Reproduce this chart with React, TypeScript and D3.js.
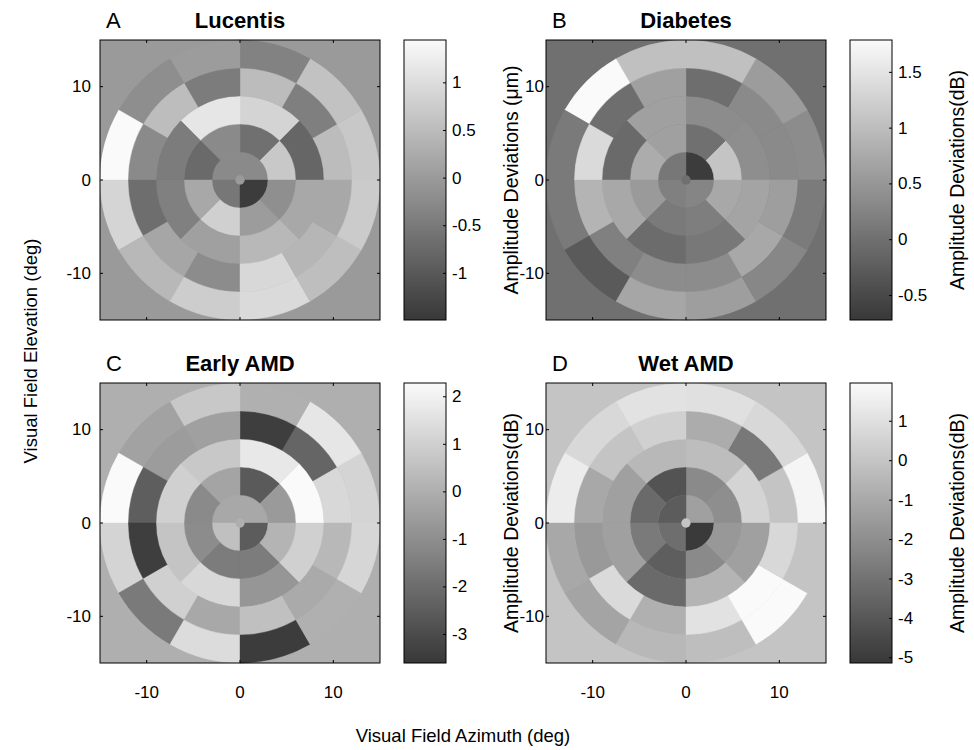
import React from "react";
import * as d3 from "d3";

// ring edges of the visual-field dartboard (deg) and tick values
const ringEdges = [0, 3, 6, 9, 12, 15];
const axisTicks = [-10, 0, 10];
const foveaRadius = 0.5;

// each ring lists its sectors counter-clockwise starting at 0 deg (nasal/right)
const lucentisRings = [
  [-0.25, -0.25, -0.54, -1.43],
  [0.69, -0.64, -0.25, -0.73, 0.21, 0.81, 0.03, -0.17],
  [-0.79, 0.87, 1.15, -0.46, -0.4, 0.09, 0.45, 0.21],
  [0.51, -0.41, 0.51, -0.46, 0.53, -0.25, -0.67, 0.18, -0.22, 0.93, 0.42, 0.21],
  [0.69, 0.6, -0.37, 0.03, -0.19, 1.45, 0.89, 0.45, 0.77, 0.96, 0.54, 0.74],
];
const diabetesRings = [
  [-0.67, 0.1, 0.21, 0.28],
  [1.09, 0.0, 0.63, 0.78, 0.55, 0.13, 0.19, 0.73],
  [0.39, 0.37, 0.63, -0.07, 0.73, -0.05, 0.11, 0.68],
  [0.34, 0.34, -0.02, 0.63, -0.02, 1.38, 0.88, 0.21, 0.37, 0.37, 0.73, 0.6],
  [0.37, 0.57, 1.04, 1.04, 1.79, 0.13, 0.13, -0.28, 0.7, 0.6, 0.3, 0.15],
];
const earlyAmdRings = [
  [-0.2, -0.2, 0.53, -2.5],
  [-0.62, -2.57, -0.32, -1.1, -1.05, -1.54, -1.54, 0.16],
  [2.29, 1.74, 0.77, 1.0, 0.65, 1.26, -0.75, 1.0],
  [1.26, -2.23, -3.42, -0.44, -0.56, -2.45, -3.42, 1.0, -0.2, 0.53, -0.14, 0.29],
  [1.14, 1.68, 0.04, 0.77, -0.38, 2.29, 1.14, -1.6, 1.38, -3.48, 0.04, 1.2],
];
const wetAmdRings = [
  [-1.32, -3.81, -3.15, -5.06],
  [-1.98, -2.13, -4.14, -3.3, -2.71, -3.74, -2.13, -1.6],
  [0.58, -0.26, -0.45, -1.32, -1.32, -3.3, -0.59, -1.32],
  [0.0, -2.79, -0.88, 0.43, 0.0, -1.03, -1.58, 0.8, -0.74, 1.09, 1.97, 0.73],
  [1.79, 0.73, 1.02, 1.09, 0.73, 1.46, -1.03, -1.18, -0.45, -0.23, 1.97, 0.0],
];

// colour limits and colorbar ticks
const lucentisRange = [-1.49, 1.45];
const diabetesRange = [-0.72, 1.79];
const earlyAmdRange = [-3.6, 2.29];
const wetAmdRange = [-5.13, 1.97];
const lucentisTicks = [-1, -0.5, 0, 0.5, 1];
const diabetesTicks = [-0.5, 0, 0.5, 1, 1.5];
const earlyAmdTicks = [-3, -2, -1, 0, 1, 2];
const wetAmdTicks = [-5, -4, -3, -2, -1, 0, 1];

const panels = [
  { letter: "A", title: "Lucentis", rings: lucentisRings, range: lucentisRange, ticks: lucentisTicks, unit: "Amplitude Deviations (μm)", col: 0, row: 0 },
  { letter: "B", title: "Diabetes", rings: diabetesRings, range: diabetesRange, ticks: diabetesTicks, unit: "Amplitude Deviations(dB)", col: 1, row: 0 },
  { letter: "C", title: "Early AMD", rings: earlyAmdRings, range: earlyAmdRange, ticks: earlyAmdTicks, unit: "Amplitude Deviations(dB)", col: 0, row: 1 },
  { letter: "D", title: "Wet AMD", rings: wetAmdRings, range: wetAmdRange, ticks: wetAmdTicks, unit: "Amplitude Deviations(dB)", col: 1, row: 1 },
];

const font = "'Liberation Sans', Arial, Helvetica, sans-serif";
const size = 280;
const lefts = [100, 546];
const tops = [40, 383];
// the right column's tick labels sit tight against the axes in the original
const yLabelGap = [9, 2];

function Panel({ p }) {
  const x0 = lefts[p.col];
  const y0 = tops[p.row];
  const x = d3.scaleLinear().domain([-15, 15]).range([0, size]);
  const y = d3.scaleLinear().domain([-15, 15]).range([size, 0]);
  const r = d3.scaleLinear().domain([0, 15]).range([0, size / 2]);
  const color = d3
    .scaleLinear<string>()
    .domain(p.range)
    .range(["#383838", "#fafafa"])
    .clamp(true);
  const arc = d3.arc();

  // build the sectors: math angles (ccw from east) -> d3 angles (cw from north)
  const cells = [];
  p.rings.forEach((vals, i) => {
    const n = vals.length;
    vals.forEach((v, j) => {
      const m0 = (j * 2 * Math.PI) / n;
      const m1 = ((j + 1) * 2 * Math.PI) / n;
      cells.push({
        d: arc({
          innerRadius: r(ringEdges[i]),
          outerRadius: r(ringEdges[i + 1]),
          startAngle: Math.PI / 2 - m1,
          endAngle: Math.PI / 2 - m0,
        }),
        fill: color(v),
      });
    });
  });

  const cbX = x0 + 304;
  const cbW = 42;
  const cb = d3.scaleLinear().domain(p.range).range([y0 + size, y0]);
  const gradId = "grad" + p.letter;
  const tickLen = 3;

  return (
    <g>
      <defs>
        <linearGradient id={gradId} x1="0" y1="1" x2="0" y2="0">
          {d3.range(0, 1.0001, 0.1).map((t) => (
            <stop key={t} offset={t} stopColor={color(p.range[0] + t * (p.range[1] - p.range[0]))} />
          ))}
        </linearGradient>
      </defs>
      <g transform={`translate(${x0},${y0})`}>
        <rect width={size} height={size} fill={color(0)} />
        <g transform={`translate(${x(0)},${y(0)})`}>
          {cells.map((c, k) => (
            <path key={k} d={c.d} fill={c.fill} stroke={c.fill} strokeWidth={0.4} />
          ))}
          <circle r={r(foveaRadius)} fill={color(0)} />
        </g>
        <rect width={size} height={size} fill="none" stroke="#000" strokeWidth={1} />
        {axisTicks.map((t) => (
          <g key={t} stroke="#000" strokeWidth={1}>
            <line x1={x(t)} x2={x(t)} y1={0} y2={tickLen} />
            <line x1={x(t)} x2={x(t)} y1={size} y2={size - tickLen} />
            <line y1={y(t)} y2={y(t)} x1={0} x2={tickLen} />
            <line y1={y(t)} y2={y(t)} x1={size} x2={size - tickLen} />
          </g>
        ))}
        {axisTicks.map((t) => (
          <text key={"y" + t} x={-yLabelGap[p.col]} y={y(t)} textAnchor="end" dominantBaseline="central" fontSize={17} fontFamily={font}>
            {t}
          </text>
        ))}
        {p.row === 1 &&
          axisTicks.map((t) => (
            <text key={"x" + t} x={x(t)} y={size + 29} textAnchor="middle" dominantBaseline="central" fontSize={17} fontFamily={font}>
              {t}
            </text>
          ))}
        <text x={6} y={-12} fontSize={22} fontFamily={font}>
          {p.letter}
        </text>
        <text x={size / 2} y={-12} textAnchor="middle" fontSize={22} fontWeight="bold" fontFamily={font}>
          {p.title}
        </text>
      </g>
      <rect x={cbX} y={y0} width={cbW} height={size} fill={`url(#${gradId})`} stroke="#000" strokeWidth={1} />
      {p.ticks.map((t) => (
        <g key={t}>
          <line x1={cbX + cbW} x2={cbX + cbW - tickLen} y1={cb(t)} y2={cb(t)} stroke="#000" />
          <text x={cbX + cbW + 6} y={cb(t)} dominantBaseline="central" fontSize={17} fontFamily={font}>
            {t}
          </text>
        </g>
      ))}
      <text
        transform={`translate(${cbX + 107},${y0 + size / 2}) rotate(-90)`}
        textAnchor="middle"
        dominantBaseline="central"
        fontSize={19.5}
        fontFamily={font}
      >
        {p.unit}
      </text>
    </g>
  );
}

export default function App() {
  return (
    <svg width={974} height={750} style={{ position: "absolute", left: 0, top: 0, background: "#fff" }}>
      <rect width={974} height={750} fill="#fff" />
      {panels.map((p) => (
        <Panel key={p.letter} p={p} />
      ))}
      <text
        transform="translate(30,351) rotate(-90)"
        textAnchor="middle"
        dominantBaseline="central"
        fontSize={18.5}
        fontFamily={font}
      >
        Visual Field Elevation (deg)
      </text>
      <text x={463} y={735} textAnchor="middle" dominantBaseline="central" fontSize={18.5} fontFamily={font}>
        Visual Field Azimuth (deg)
      </text>
    </svg>
  );
}
